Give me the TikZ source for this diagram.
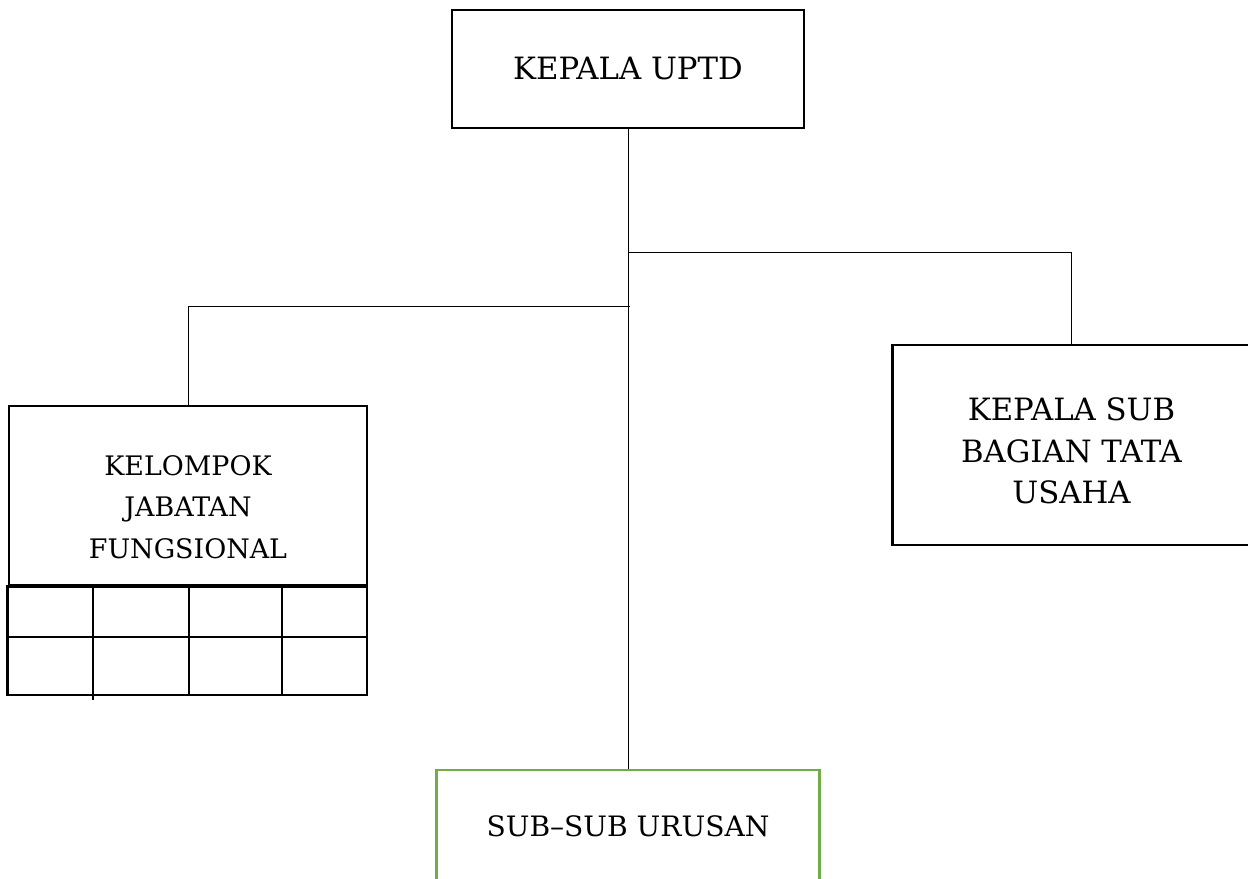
\documentclass[tikz,border=0pt]{standalone}
\usepackage{fontspec}
\setmainfont{DejaVu Serif}
\usepackage{xcolor}
\definecolor{boxgreen}{HTML}{70AD47}
\tikzset{
  unitbox/.style={draw=black, line width=1.5pt, align=center, inner sep=0pt,
    font=\fontsize{17.5}{23.8}\selectfont},
  conn/.style={draw=black, line width=0.5pt},
  gridline/.style={draw=black, line width=0.6pt}
}
\begin{document}
\begin{tikzpicture}[x=0.02cm,y=-0.02cm]
		\useasboundingbox (0,0) rectangle (1248,879);
		\clip (0,0) rectangle (1248,879);
		% boxes
		\node [unitbox, minimum width=7.04cm, minimum height=2.36cm] (kepala) at (628,69) {KEPALA UPTD};
		\node [unitbox, minimum width=7.16cm, minimum height=4cm] (kasubag) at (1071.5,445) {\rule{0pt}{19.6pt}KEPALA SUB\\BAGIAN TATA\\USAHA};
		\node [unitbox, font=\fontsize{15.3}{23.8}\selectfont, minimum width=7.16cm, minimum height=3.58cm] (kjf) at (188,495.5) {\rule{0pt}{24.6pt}KELOMPOK\\JABATAN\\FUNGSIONAL};
		\node [unitbox, draw=boxgreen, line width=1.2pt, font=\fontsize{16}{23.8}\selectfont, minimum width=7.66cm, minimum height=2.24cm] (urusan) at (628,826) {SUB--SUB URUSAN};
		% grid under the functional group
		\draw [gridline] (7,637) -- (367,637);
		\foreach \gx in {93,189,282}
			\draw [gridline] (\gx,585) -- (\gx,695);
		\draw [gridline] (93,695) -- (93,700);
		\draw [black, line width=1.5pt] (kjf.south west) rectangle (367,695);
		% connectors
		\coordinate (brR) at (628,252);
		\coordinate (brL) at (630,306);
		\draw [conn] (kepala.south) -- (urusan.north);
		\draw [conn] (brR) -| (kasubag.north);
		\draw [conn] (brL) -| (kjf.north);
\end{tikzpicture}
\end{document}
